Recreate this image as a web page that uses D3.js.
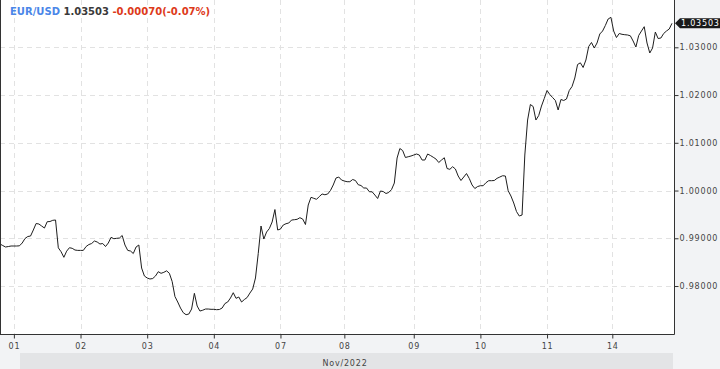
<!DOCTYPE html>
<html>
<head>
<meta charset="utf-8">
<script src="https://cdn.jsdelivr.net/npm/d3@7"></script>
<style>
  html, body { margin: 0; padding: 0; background: #f2f3f5; }
  svg { display: block; }
  .axis text { font-family: "DejaVu Sans", sans-serif; font-size: 8px; fill: #444; letter-spacing: 0.8px; }
  .axis path, .axis line { stroke: #333; }
  .grid line { stroke: #e2e2e2; stroke-dasharray: 5,4; }
</style>
</head>
<body>
<svg id="chart"></svg>
<script>
// EUR/USD hourly closes, 31 Oct evening .. 14 Nov 2022
const prices = [
  0.98880, 0.98848, 0.98817, 0.98827, 0.98838, 0.98838, 0.98838, 0.98842, 0.98901, 0.98995,
  0.99037, 0.99047, 0.99173, 0.99309, 0.99299, 0.99257, 0.99214, 0.99347, 0.99351, 0.99376,
  0.99383, 0.98800, 0.98718, 0.98601, 0.98730, 0.98802, 0.98790, 0.98754, 0.98746, 0.98746,
  0.98746, 0.98827, 0.98869, 0.98890, 0.98943, 0.98922, 0.98880, 0.98890, 0.98827, 0.98901,
  0.99020, 0.98991, 0.98999, 0.99005, 0.99058, 0.98859, 0.98746, 0.98733, 0.98681, 0.98817,
  0.98859, 0.98377, 0.98210, 0.98168, 0.98147, 0.98157, 0.98210, 0.98300, 0.98266, 0.98287,
  0.98318, 0.98266, 0.98094, 0.97780, 0.97665, 0.97539, 0.97441, 0.97399, 0.97413, 0.97518,
  0.97847, 0.97581, 0.97476, 0.97493, 0.97518, 0.97518, 0.97512, 0.97512, 0.97504, 0.97508,
  0.97539, 0.97633, 0.97665, 0.97749, 0.97860, 0.97742, 0.97770, 0.97665, 0.97717, 0.97759,
  0.97853, 0.97937, 0.98168, 0.98681, 0.99257, 0.98984, 0.99131, 0.99204, 0.99341, 0.99602,
  0.99173, 0.99194, 0.99278, 0.99305, 0.99320, 0.99382, 0.99389, 0.99397, 0.99431, 0.99403,
  0.99288, 0.99697, 0.99858, 0.99837, 0.99816, 0.99875, 0.99927, 0.99912, 0.99927, 1.00000,
  1.00116, 1.00262, 1.00283, 1.00220, 1.00199, 1.00185, 1.00185, 1.00231, 1.00210, 1.00122,
  1.00105, 1.00053, 1.00053, 0.99975, 0.99973, 0.99906, 0.99833, 0.99990, 0.99979, 0.99938,
  0.99959, 1.00021, 1.00157, 1.00681, 1.00880, 1.00838, 1.00692, 1.00708, 1.00723, 1.00744,
  1.00765, 1.00744, 1.00639, 1.00639, 1.00765, 1.00734, 1.00698, 1.00660, 1.00587, 1.00639,
  1.00687, 1.00461, 1.00444, 1.00499, 1.00451, 1.00304, 1.00210, 1.00283, 1.00356, 1.00252,
  1.00116, 1.00042, 1.00084, 1.00101, 1.00101, 1.00164, 1.00206, 1.00206, 1.00210, 1.00256,
  1.00283, 1.00310, 1.00304, 0.99996, 0.99885, 0.99739, 0.99560, 0.99466, 0.99487, 1.00744,
  1.01477, 1.01802, 1.01760, 1.01477, 1.01571, 1.01770, 1.01928, 1.02095, 1.02011, 1.01948,
  1.01886, 1.01687, 1.01907, 1.01886, 1.01917, 1.02095, 1.02179, 1.02357, 1.02640, 1.02675,
  1.02577, 1.02734, 1.03017, 1.03101, 1.02985, 1.03090, 1.03279, 1.03341, 1.03457, 1.03593,
  1.03628, 1.03341, 1.03205, 1.03289, 1.03272, 1.03264, 1.03258, 1.03241, 1.03132, 1.03006,
  1.03247, 1.03341, 1.03432, 1.03090, 1.02881, 1.02985, 1.03320, 1.03184, 1.03195, 1.03289,
  1.03341, 1.03383, 1.03503
];

// first bar of each trading day
const dayStart = [5, 29, 53, 77, 101, 124, 149, 173, 197, 220.5];
const dayLabels = ["01", "02", "03", "04", "07", "08", "09", "10", "11", "14"];

const priceTicks = [0.98, 0.99, 1.00, 1.01, 1.02, 1.03];

const symbol = "EUR/USD";
const last = 1.03503;
const change = "-0.00070(-0.07%)";
const monthLabel = "Nov/2022";

const width = 720;
const height = 369;
const plotW = 674;
const plotH = 334;

const svg = d3.select("#chart").attr("width", width).attr("height", height);

// plot background
svg.append("rect")
    .attr("x", 0).attr("y", 0)
    .attr("width", plotW).attr("height", plotH)
    .attr("fill", "#fff");

const x = d3.scaleLinear().domain([0, prices.length - 1]).range([0, 672]);
const y = d3.scaleLinear().domain([0.96995, 1.03991]).range([plotH, 0]);

// grid
const grid = svg.append("g").attr("class", "grid");
grid.selectAll(".h")
    .data(priceTicks)
    .enter()
    .append("line")
    .attr("x1", 0).attr("x2", plotW)
    .attr("y1", d => Math.round(y(d)) + 0.5)
    .attr("y2", d => Math.round(y(d)) + 0.5);
grid.selectAll(".v")
    .data(dayStart)
    .enter()
    .append("line")
    .attr("y1", 0).attr("y2", plotH)
    .attr("x1", d => Math.round(x(d)) + 0.5)
    .attr("x2", d => Math.round(x(d)) + 0.5);

// price line
const line = d3.line()
    .x((d, i) => x(i))
    .y(d => y(d));

svg.append("path")
    .datum(prices)
    .attr("fill", "none")
    .attr("stroke", "#1e1e1e")
    .attr("stroke-width", 1)
    .attr("d", line);

// month band
svg.append("rect")
    .attr("x", 20).attr("y", 353)
    .attr("width", 653).attr("height", 16)
    .attr("fill", "#e3e4e6");
svg.append("text")
    .attr("x", 345).attr("y", 366)
    .attr("text-anchor", "middle")
    .style("font-family", "DejaVu Sans, sans-serif")
    .style("font-size", "8px")
    .style("letter-spacing", "0.8px")
    .style("fill", "#444")
    .text(monthLabel);

// axes
const xAxis = d3.axisBottom(x)
    .tickValues(dayStart)
    .tickFormat((d, i) => dayLabels[i])
    .tickSize(4)
    .tickSizeOuter(0);

svg.append("g")
    .attr("class", "axis")
    .attr("transform", `translate(0,${plotH + 0.5})`)
    .call(xAxis)
    .call(g => g.select(".domain").attr("d", `M0,0H${plotW + 0.5}`))
    .call(g => g.selectAll("text").attr("dy", "0.95em"));

const yAxis = d3.axisRight(y)
    .tickValues(priceTicks)
    .tickFormat(d3.format(".5f"))
    .tickSize(4)
    .tickSizeOuter(0);

svg.append("g")
    .attr("class", "axis")
    .attr("transform", `translate(${plotW + 0.5},0)`)
    .call(yAxis)
    .call(g => g.select(".domain").attr("d", `M0,0V${plotH + 0.5}`))
    .call(g => g.selectAll("text").attr("x", 5));

// left frame
svg.append("line")
    .attr("x1", 0.5).attr("x2", 0.5)
    .attr("y1", 0).attr("y2", plotH + 0.5)
    .attr("stroke", "#333");

// last price tag
const ty = y(last);
svg.append("path")
    .attr("d", `M${plotW + 1},${ty} L${plotW + 6},${ty - 5} H${width} V${ty + 5} H${plotW + 6} Z`)
    .attr("fill", "#1a1a1a");
svg.append("text")
    .attr("x", plotW + 7).attr("y", ty)
    .attr("dy", "0.35em")
    .style("font-family", "DejaVu Sans, sans-serif")
    .style("font-size", "8px")
    .style("letter-spacing", "0.8px")
    .style("fill", "#fff")
    .text(d3.format(".5f")(last));

// header
const header = svg.append("text")
    .attr("x", 10).attr("y", 15)
    .style("font-family", "DejaVu Sans, sans-serif")
    .style("font-size", "10px")
    .style("font-weight", "bold");
header.append("tspan").attr("fill", "#4a86e8").text(symbol + " ");
header.append("tspan").attr("fill", "#3a3a3a").text(d3.format(".5f")(last) + " ");
header.append("tspan").attr("fill", "#dd3a1a").text(change);
</script>
</body>
</html>
